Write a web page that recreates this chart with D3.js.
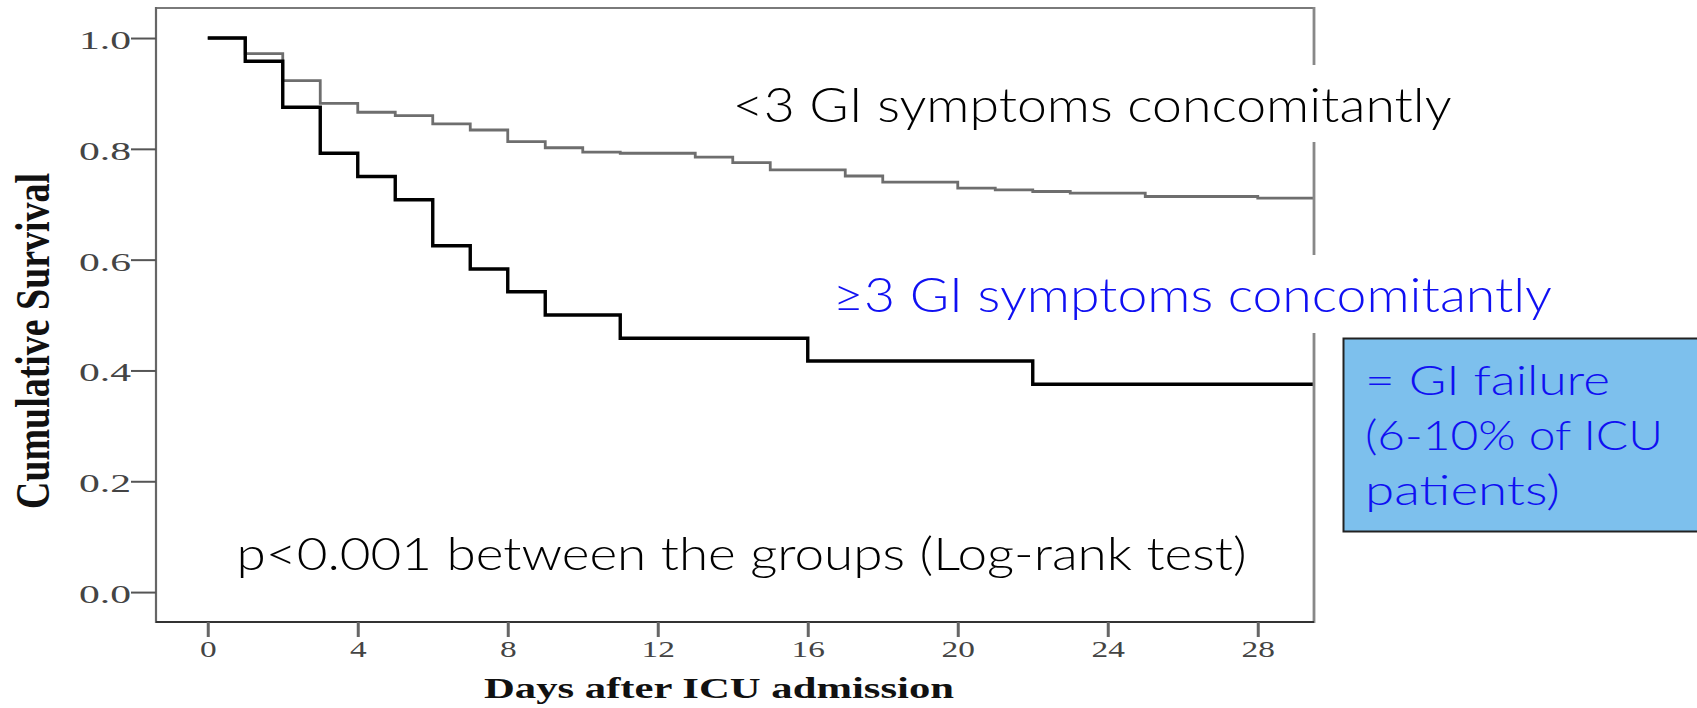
<!DOCTYPE html>
<html>
<head>
<meta charset="utf-8">
<script src="https://cdn.jsdelivr.net/npm/d3@7"></script>
<style>
  html, body { margin: 0; padding: 0; background: #fff; }
  svg { display: block; }
</style>
</head>
<body>
<div id="canvas"></div>
<script>
(function(d3){

/**
 * Kaplan-Meier survival, days after ICU admission
 *
 *   - two groups: <3 and >=3 GI symptoms concomitantly
 *   - step lines drawn with curveStepAfter
 */

  var dayTicks = [0, 4, 8, 12, 16, 20, 24, 28],
      survTicks = [0.0, 0.2, 0.4, 0.6, 0.8, 1.0],
      lowDays  = [0, 1, 2, 3, 4, 5, 6, 7, 8, 9, 10, 11, 13, 14, 15, 17, 18, 20, 21, 22, 23, 25, 28],
      lowSurv  = [1.0, 0.972, 0.923, 0.882, 0.866, 0.860, 0.845, 0.834, 0.813, 0.802, 0.794, 0.792,
                  0.785, 0.775, 0.762, 0.751, 0.740, 0.729, 0.726, 0.723, 0.720, 0.714, 0.711],
      highDays = [0, 1, 2, 3, 4, 5, 6, 7, 8, 9, 11, 16, 22],
      highSurv = [1.0, 0.958, 0.875, 0.792, 0.750, 0.708, 0.625, 0.583, 0.542, 0.500, 0.458, 0.417, 0.375],
      lastDay = 29.5,
      labels = {
        low: '<3 GI symptoms concomitantly',
        high: '\u22653 GI symptoms concomitantly',
        p: 'p<0.001 between the groups (Log-rank test)',
        box: ['= GI failure', '(6-10% of ICU', 'patients)'],
        x: 'Days after ICU admission',
        y: 'Cumulative Survival'
      };

  var canvas_d = {width: 1697, height: 708},
      frame = {left: 156, right: 1314, top: 8, bottom: 622},
      annoFont = 'Lato, "Open Sans", sans-serif',
      serif = '"Liberation Serif", "DejaVu Serif", serif',
      canvas, x, y, line;

  x = d3.scaleLinear().domain([-1.38, 29.5]).range([frame.left, frame.right]);
  y = d3.scaleLinear().domain([-0.054, 1.056]).range([frame.bottom, frame.top - 1]);

  function series(days, surv) {
    var pts = days.map(function(d, i){ return [d, surv[i]]; });
    pts.push([lastDay, surv[surv.length - 1]]);
    return pts;
  }

  // text in the source is stretched sideways, so widen glyphs
  function stretch(sel, k) {
    sel.each(function(){
      var w = this.getComputedTextLength();
      d3.select(this).attr('textLength', w * k).attr('lengthAdjust', 'spacingAndGlyphs');
    });
  }

  canvas = d3.select('#canvas').append('svg')
      .attr('width', canvas_d.width)
      .attr('height', canvas_d.height);


  /**
   * Curves.
   */
  line = d3.line()
      .x(function(d){ return x(d[0]); })
      .y(function(d){ return y(d[1]); })
      .curve(d3.curveStepAfter);

  canvas.append('path')
      .attr('d', line(series(lowDays, lowSurv)))
      .attr('fill', 'none')
      .attr('stroke', '#6e6e6e')
      .attr('stroke-width', 2.8);

  canvas.append('path')
      .attr('d', line(series(highDays, highSurv)))
      .attr('fill', 'none')
      .attr('stroke', '#000')
      .attr('stroke-width', 3.4);


  /**
   * Frame.
   */
  canvas.append('line')
      .attr('x1', frame.left).attr('x2', frame.right)
      .attr('y1', frame.top).attr('y2', frame.top)
      .attr('stroke', '#7a7a7a').attr('stroke-width', 2);
  canvas.append('line')
      .attr('x1', frame.left).attr('x2', frame.left)
      .attr('y1', frame.top - 1).attr('y2', frame.bottom + 1)
      .attr('stroke', '#666').attr('stroke-width', 2.2);
  canvas.append('line')
      .attr('x1', frame.right).attr('x2', frame.right)
      .attr('y1', frame.top - 1).attr('y2', frame.bottom + 1)
      .attr('stroke', '#888').attr('stroke-width', 2.8);
  canvas.append('line')
      .attr('x1', frame.left).attr('x2', frame.right)
      .attr('y1', frame.bottom).attr('y2', frame.bottom)
      .attr('stroke', '#333').attr('stroke-width', 2);


  /**
   * Axes.
   */
  var yAxis = canvas.append('g')
      .attr('transform', 'translate(' + frame.left + ',0)')
      .call(d3.axisLeft(y).tickValues(survTicks).tickFormat(d3.format('.1f')).tickSize(25).tickPadding(0));
  yAxis.select('.domain').remove();
  yAxis.selectAll('line').attr('stroke', '#555').attr('stroke-width', 2);
  yAxis.selectAll('text')
      .attr('dy', '0.40em')
      .attr('fill', '#444')
      .style('font-family', serif)
      .style('font-size', '26px');
  stretch(yAxis.selectAll('text'), 1.6);

  var xAxis = canvas.append('g')
      .attr('transform', 'translate(0,' + frame.bottom + ')')
      .call(d3.axisBottom(x).tickValues(dayTicks).tickSize(15).tickPadding(4));
  xAxis.select('.domain').remove();
  xAxis.selectAll('line').attr('stroke', '#666').attr('stroke-width', 3);
  xAxis.selectAll('text')
      .attr('fill', '#444')
      .style('font-family', serif)
      .style('font-size', '23px');
  stretch(xAxis.selectAll('text'), 1.45);

  canvas.append('text')
      .attr('transform', 'translate(49,341) scale(1.45,1) rotate(-90)')
      .attr('text-anchor', 'middle')
      .attr('textLength', 336).attr('lengthAdjust', 'spacingAndGlyphs')
      .style('font-family', serif)
      .style('font-weight', 'bold')
      .style('font-size', '34px')
      .attr('fill', '#111')
      .text(labels.y);

  canvas.append('text')
      .attr('x', 484).attr('y', 698)
      .attr('textLength', 470).attr('lengthAdjust', 'spacingAndGlyphs')
      .style('font-family', serif)
      .style('font-weight', 'bold')
      .style('font-size', '30px')
      .attr('fill', '#111')
      .text(labels.x);


  /**
   * Annotations.
   */
  canvas.append('rect')
      .attr('x', 712).attr('y', 65).attr('width', 750).attr('height', 77)
      .attr('fill', '#fff');
  canvas.append('rect')
      .attr('x', 815).attr('y', 255).attr('width', 750).attr('height', 78)
      .attr('fill', '#fff');

  canvas.append('text')
      .attr('x', 732.6).attr('y', 121.7)
      .attr('textLength', 719).attr('lengthAdjust', 'spacingAndGlyphs')
      .style('font-family', annoFont).style('font-size', '48px').style('font-weight', 300)
      .attr('fill', '#000')
      .text(labels.low);

  canvas.append('text')
      .attr('x', 833).attr('y', 311.7)
      .attr('textLength', 719).attr('lengthAdjust', 'spacingAndGlyphs')
      .style('font-family', annoFont).style('font-size', '48px').style('font-weight', 300)
      .attr('fill', '#1010f2')
      .text(labels.high);

  canvas.append('text')
      .attr('x', 236.6).attr('y', 570)
      .attr('textLength', 1010).attr('lengthAdjust', 'spacingAndGlyphs')
      .style('font-family', annoFont).style('font-size', '46px').style('font-weight', 300)
      .attr('fill', '#000')
      .text(labels.p);

  canvas.append('rect')
      .attr('x', 1343.5).attr('y', 338.5).attr('width', 360).attr('height', 193)
      .attr('fill', '#7dc0ed')
      .attr('stroke', '#222')
      .attr('stroke-width', 2);

  var boxLens = [245, 298, 195];
  canvas.selectAll('text.box')
      .data(labels.box)
    .enter().append('text')
      .attr('class', 'box')
      .attr('x', 1365)
      .attr('y', function(d, i){ return 395 + 55 * i; })
      .attr('textLength', function(d, i){ return boxLens[i]; })
      .attr('lengthAdjust', 'spacingAndGlyphs')
      .style('font-family', annoFont).style('font-size', '42px').style('font-weight', 300)
      .attr('fill', '#1010f2')
      .text(function(d){ return d; });

})(d3);
</script>
</body>
</html>
